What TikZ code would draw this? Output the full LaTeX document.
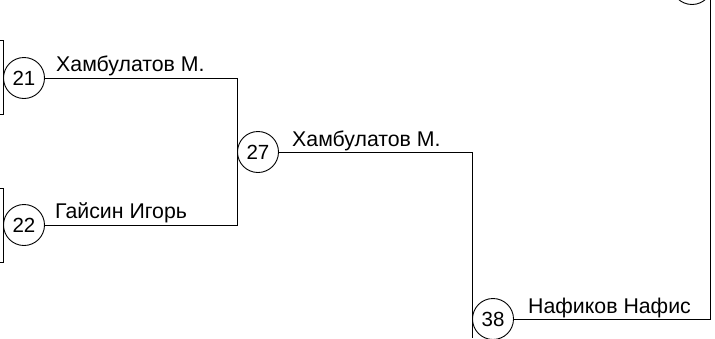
\documentclass[tikz,border=0pt]{standalone}
\usepackage{fontspec}
\setmainfont{Liberation Sans}
\begin{document}
\begin{tikzpicture}[x=1pt,y=-1pt,
  seed/.style={draw,circle,line width=0.9pt,minimum size=41pt,inner sep=0pt,font=\fontsize{20.5}{22}\selectfont},
  playerlbl/.style={anchor=base west,inner sep=0pt,font=\fontsize{21.3}{23}\selectfont},
  ln/.style={line width=0.9pt}]
\useasboundingbox (0,0) rectangle (715,338);
% brackets on the left
\coordinate (b1a) at (0,40); \coordinate (b1b) at (0,114);
\coordinate (b2a) at (0,188); \coordinate (b2b) at (0,262);
\draw[ln] (b1a) -- (3,40) -- (3,114) -- (b1b);
\draw[ln] (b2a) -- (3,188) -- (3,262) -- (b2b);
% seed circles
\node[seed] (c21) at (24,78) {21};
\node[seed] (c22) at (24,225) {22};
\node[seed] (c27) at (258,152) {27};
\node[seed] (c38) at (493,319) {38};
\node[seed] (ctop) at (692,-16) {};
% corners
\coordinate (k1) at (237,78);
\coordinate (k2) at (237,225);
\coordinate (k3) at (472,152);
\coordinate (k4) at (472,338);
\coordinate (k5) at (710,319);
\coordinate (k6) at (710,0);
\draw[ln] (c21.east) -- (k1) -- (k2) -- (c22.east);
\draw[ln] (c27.east) -- (k3) -- (k4);
\draw[ln] (c38.east) -- (k5) -- (k6);
% names
\node[playerlbl] (n21) at (56,71.5) {Хамбулатов М.};
\node[playerlbl] (n22) at (55,218.5) {Гайсин Игорь};
\node[playerlbl] (n27) at (292,146) {Хамбулатов М.};
\node[playerlbl] (n38) at (528,313) {Нафиков Нафис};
\end{tikzpicture}
\end{document}
